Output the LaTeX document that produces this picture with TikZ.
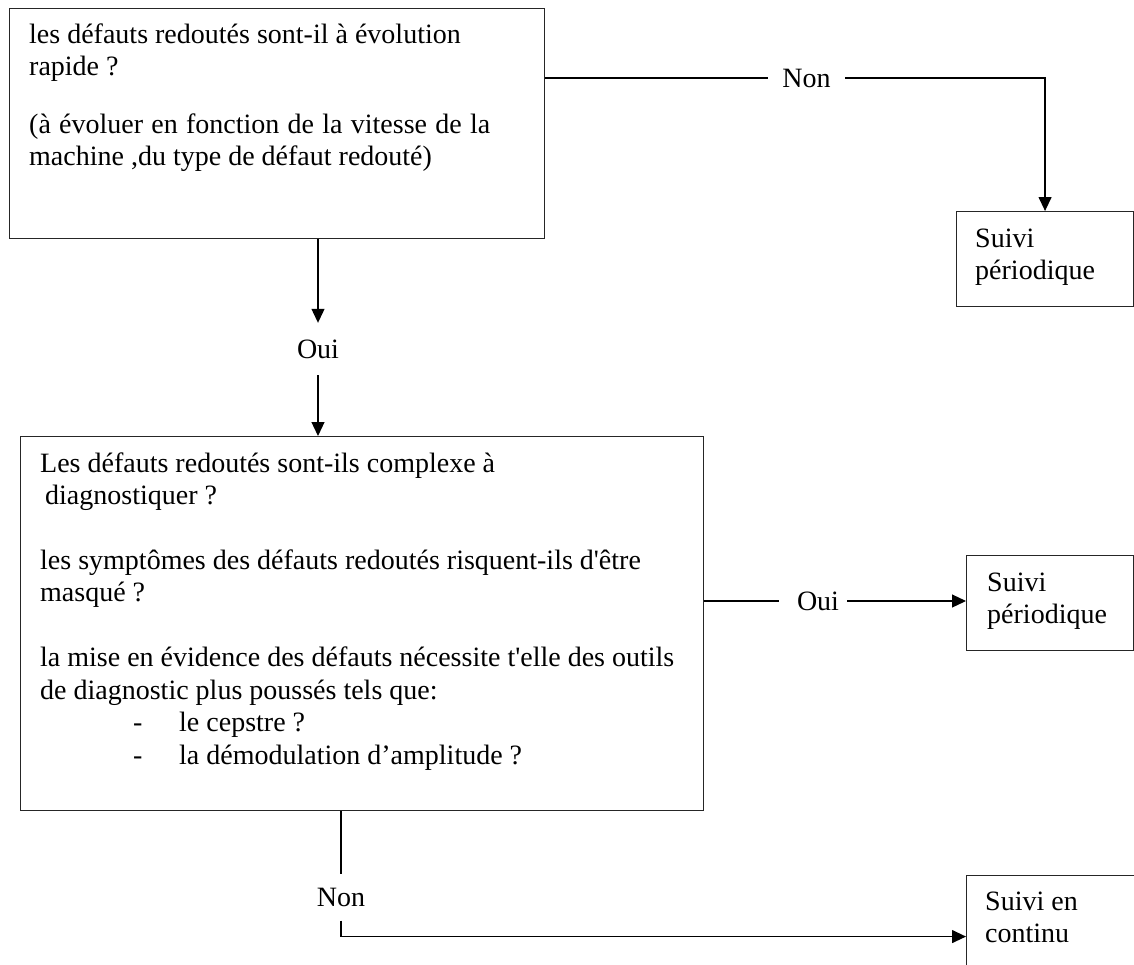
\documentclass[tikz,border=0pt]{standalone}
\usepackage{fontspec}
\setmainfont{Liberation Serif}
\usetikzlibrary{arrows.meta}
\begin{document}
\begin{tikzpicture}[x=1pt,y=-1pt,
  box/.style={draw=black!85, line width=1.1pt, inner sep=0pt, anchor=north west},
  conn/.style={draw=black, line width=1.2pt},
  arr/.style={conn, -{Triangle[length=14pt,width=13pt]}},
  lbl/.style={inner sep=0pt, font=\fontsize{28}{32.7}\selectfont},
  txt/.style={inner sep=0pt, anchor=base west, font=\fontsize{28}{32.7}\selectfont}
]
\clip (0,0) rectangle (1134,964);
% boxes
\node[box, minimum width=535pt, minimum height=230pt] (A) at (9,8) {};
\node[box, minimum width=683pt, minimum height=374pt] (B) at (20,436) {};
\node[box, minimum width=177pt, minimum height=95pt] (C) at (956,211) {};
\node[box, minimum width=167pt, minimum height=95pt] (D) at (966,555) {};
\node[box, minimum width=190pt, minimum height=94pt] (E) at (966,875) {};
% texts
\node[txt] (At) at (29,43) {\parbox[t]{480pt}{\raggedright
les défauts redoutés sont-il à évolution\\
rapide ?\\[24.6pt]
\makebox[461pt][s]{(à évoluer en fonction de la vitesse de la}\\
machine ,du type de défaut redouté)}};
\node[txt] (Bt) at (40,472) {\parbox[t]{650pt}{\raggedright
Les défauts redoutés sont-ils complexe à\\
\hspace*{5pt}diagnostiquer ?\\[31.8pt]
les symptômes des défauts redoutés risquent-ils d\textquotesingle être\\
masqué ?\\[31.8pt]
la mise en évidence des défauts nécessite t\textquotesingle elle des outils\\
de diagnostic plus poussés tels que:\\
\hspace*{93pt}\makebox[46pt][l]{-}le cepstre ?\\
\hspace*{93pt}\makebox[46pt][l]{-}la démodulation d’amplitude ?}};
\node[txt] (Ct) at (975,247) {\parbox[t]{150pt}{Suivi\\périodique}};
\node[txt] (Dt) at (987,591) {\parbox[t]{150pt}{Suivi\\périodique}};
\node[txt] (Et) at (985,910) {\parbox[t]{150pt}{Suivi en\\continu}};
% labels
\node[lbl, minimum width=77pt] (non1) at (806.5,78) {Non};
\node[lbl, minimum height=52pt] (oui1) at (318,349) {Oui};
\node[lbl, minimum width=68pt] (oui2) at (813,601) {\hspace*{10pt}Oui};
\node[lbl, minimum height=46pt] (non2) at (341,897.5) {Non};
% connectors
\draw[conn] (A.east |- non1) -- (non1.west);
\draw[arr] (non1.east) -| (C.north);
\draw[arr] (A.south -| oui1) -- (oui1.north);
\draw[arr] (oui1.south) -- (B.north -| oui1);
\draw[conn] (B.east |- oui2) -- (oui2.west);
\draw[arr] (oui2.east) -- (oui2 -| D.west);
\draw[conn] (B.south -| non2) -- (non2.north);
\draw[arr] (non2.south) |- ([yshift=-14pt]E.west);
\end{tikzpicture}
\end{document}
